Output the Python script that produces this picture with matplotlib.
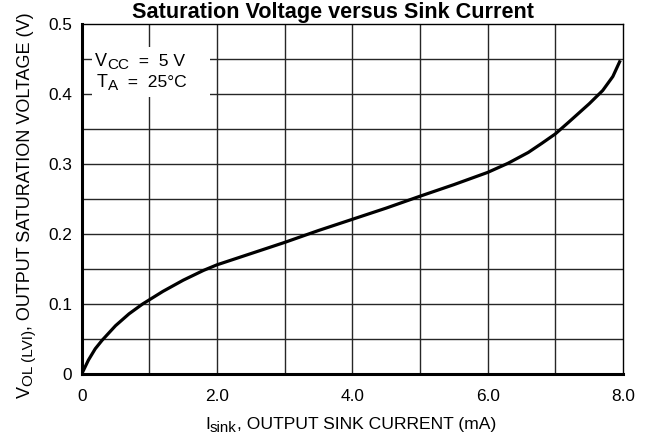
import numpy as np
import matplotlib
matplotlib.use('Agg')
import matplotlib.pyplot as plt
from matplotlib.transforms import IdentityTransform
from matplotlib.patches import Rectangle

plt.rcParams['font.family'] = ['Liberation Sans', 'DejaVu Sans']

# 读出来的曲线点
i_sink = [0, 0.1, 0.2, 0.3, 0.5, 0.7, 0.9, 1.2, 1.5, 1.8, 2.0, 2.5, 3.0, 3.5,
          4.0, 4.5, 5.0, 5.5, 6.0, 6.3, 6.6, 6.8, 7.0, 7.2, 7.5, 7.7, 7.85, 7.95]
v_ol = [0, 0.020, 0.036, 0.048, 0.069, 0.086, 0.100, 0.118, 0.134, 0.148,
        0.156, 0.172, 0.188, 0.205, 0.221, 0.237, 0.254, 0.2705, 0.288, 0.301,
        0.3165, 0.3295, 0.343, 0.360, 0.386, 0.405, 0.425, 0.446]

x_ticks = [0, 2, 4, 6, 8]
x_labels = ['0', '2.0', '4.0', '6.0', '8.0']
y_ticks = [0, 0.1, 0.2, 0.3, 0.4, 0.5]
y_labels = ['0', '0.1', '0.2', '0.3', '0.4', '0.5']

W, H = 651, 440
fig = plt.figure(figsize=(W / 100, H / 100), dpi=100)
ax = fig.add_axes([81.7 / W, 66 / H, (623 - 81.7) / W, (374 - 24) / H])

ax.set_xlim(0, 8)
ax.set_ylim(0, 0.5)

# 网格
for gx in np.arange(1, 8, 1.0):
    ax.axvline(gx, color='#262626', lw=1.0, zorder=1)
for gy in np.arange(0.05, 0.5, 0.05):
    ax.axhline(gy, color='#262626', lw=1.0, zorder=1)

ax.plot(i_sink, v_ol, color='black', lw=2.3, zorder=3)

ax.set_xticks(x_ticks)
ax.set_xticklabels(x_labels)
ax.set_yticks(y_ticks)
ax.set_yticklabels(y_labels)
ax.tick_params(length=0, labelsize=12.4)
ax.tick_params(axis='x', pad=11)
ax.tick_params(axis='y', pad=7)

for s in ['left', 'bottom']:
    ax.spines[s].set_linewidth(2.2)
for s in ['top', 'right']:
    ax.spines[s].set_linewidth(1.0)

# 白底条件框
ax.add_patch(Rectangle((0.15, 0.396), 1.745, 0.071, facecolor='white',
                       edgecolor='none', zorder=2))

renderer = fig.canvas.get_renderer()


def rich(x, y, pieces, rot=False):
    # pieces: (文字, 字号, 下移像素)
    pos = 0
    for s, size, drop in pieces:
        if rot:
            t = fig.text(x + drop, y + pos, s, fontsize=size, rotation=90,
                         rotation_mode='anchor', ha='left', va='baseline',
                         transform=IdentityTransform(), zorder=5)
            pos += t.get_window_extent(renderer).height
        else:
            t = fig.text(x + pos, y - drop, s, fontsize=size, ha='left',
                         va='baseline', transform=IdentityTransform(), zorder=5)
            pos += t.get_window_extent(renderer).width


# 坐标轴标题（y 从底部向上量）
rich(205, H - 429, [('I', 12.6, 0), ('sink', 10.8, 3), (', OUTPUT SINK CURRENT (mA)', 12.6, 0)])
rich(30, H - 398, [('V', 13, 0), ('OL (LVI)', 11, 3), (', OUTPUT SATURATION VOLTAGE (V)', 13, 0)], rot=True)

rich(95, H - 66, [('V', 13, 0), ('CC', 11, 3.3), ('  =  5 V', 12.6, 0)])
rich(97, H - 86.5, [('T', 13, 0), ('A', 11, 3.3), ('  =  25°C', 12.6, 0)])

fig.text(0.512, 1 - 18 / H, 'Saturation Voltage versus Sink Current',
         fontsize=15.6, fontweight='bold', ha='center', va='baseline')

fig.savefig('out.png', dpi=100)
